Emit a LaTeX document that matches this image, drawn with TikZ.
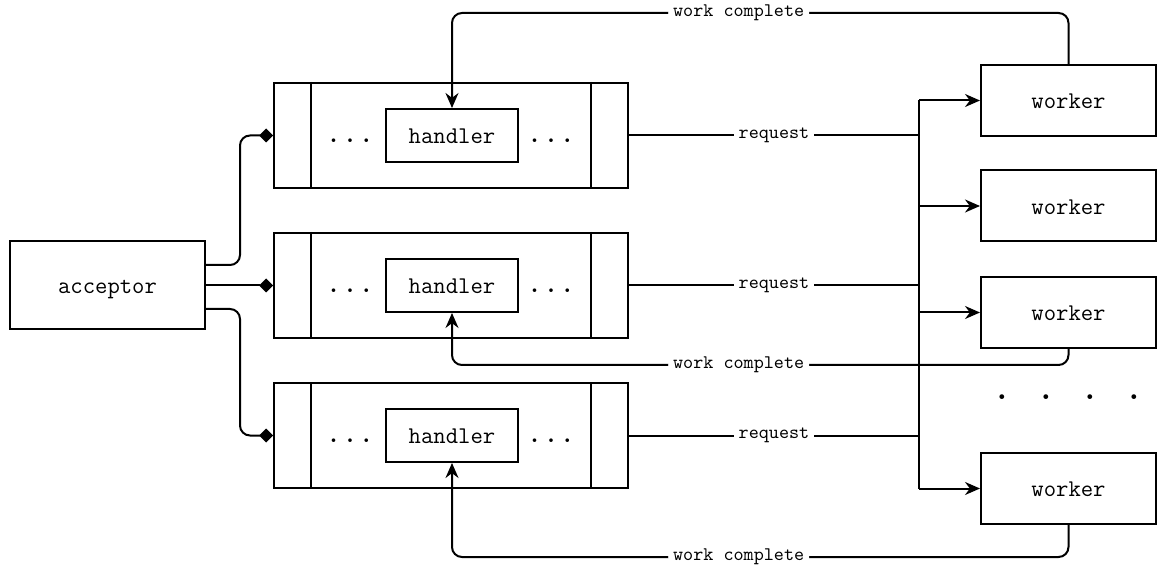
\documentclass[tikz,border=0pt]{standalone}
\usetikzlibrary{arrows.meta,calc}
\begin{document}
\begin{tikzpicture}[x=0.5pt,y=-0.5pt,
  line width=1pt,
  box/.style={draw, line width=1pt, font=\fontsize{12}{14}\selectfont\ttfamily, inner sep=0pt, text height=8.4pt, text depth=0pt},
  queue/.style={draw, line width=1pt, minimum width=177pt, minimum height=52.5pt, inner sep=0pt},
  handlerbox/.style={box, minimum width=66pt, minimum height=26.5pt},
  workerbox/.style={box, minimum width=87.5pt, minimum height=35.5pt},
  dotsel/.style={font=\fontsize{16}{18}\selectfont\ttfamily, inner sep=0pt, anchor=base},
  lbl/.style={fill=white, font=\fontsize{9.6}{11}\selectfont\ttfamily, inner xsep=2.5pt, inner ysep=1pt},
  tip/.style={-{Stealth[length=7.5pt,width=6.5pt]}},
  dmd/.style={-{Diamond[length=7pt,width=7pt]}},
  wire/.style={rounded corners=5pt},
]
\useasboundingbox (0,0) rectangle (1157,572);

% acceptor
\node[box, minimum width=97.5pt, minimum height=44pt] (acc) at (107.5,285.5) {acceptor};

% three queues, each holding a handler
\foreach \i/\y in {1/135.5, 2/285.5, 3/435.5} {
  \node[queue] (q\i) at (451,\y) {};
  \draw ($(q\i.north west)+(38,0)$) -- ($(q\i.south west)+(38,0)$);
  \draw ($(q\i.north east)+(-38,0)$) -- ($(q\i.south east)+(-38,0)$);
  \node[handlerbox] (h\i) at (452,\y) {handler};
  \node[dotsel] (dl\i) at (350,\y+7) {...};
  \node[dotsel] (dr\i) at (551,\y+7) {...};
}

% workers
\node[workerbox] (w1) at (1068.5,100.5) {worker};
\node[workerbox] (w2) at (1068.5,206) {worker};
\node[workerbox] (w3) at (1068.5,312.5) {worker};
\node[workerbox] (w4) at (1068.5,488.5) {worker};
\node[font=\fontsize{21}{24}\selectfont\ttfamily, inner sep=0pt] (more) at (1068.5,397)
  {.\hspace{11.2pt}.\hspace{11.2pt}.\hspace{11.2pt}.};

% acceptor to queues
\coordinate (a1) at (205,265);
\coordinate (a3) at (205,309);
\draw[dmd, wire] (a1) -- (240,265) -- (240,135.5) -- (q1.west);
\draw[dmd] (acc.east) -- (q2.west);
\draw[dmd, wire] (a3) -- (240,309) -- (240,435.5) -- (q3.west);

% request bus
\coordinate (bt) at (919,100.5);
\coordinate (bb) at (919,488.5);
\draw (bt) -- (bb);
\foreach \i in {1,2,3} {
  \draw (q\i.east) -- node[lbl] {request} (q\i.east -| bt);
}
\foreach \i in {1,2,3,4} {
  \draw[tip] (w\i.west -| bt) -- (w\i.west);
}

% work complete returns
\draw[tip, wire] (w1.north) -- (1068.5,13) -- node[lbl, pos=0.535] {work complete} (452,13) -- (h1.north);
\draw[tip, wire] (w3.south) -- (1068.5,365) -- node[lbl, pos=0.535] {work complete} (452,365) -- (h2.south);
\draw[tip, wire] (w4.south) -- (1068.5,557) -- node[lbl, pos=0.535] {work complete} (452,557) -- (h3.south);
\end{tikzpicture}
\end{document}
